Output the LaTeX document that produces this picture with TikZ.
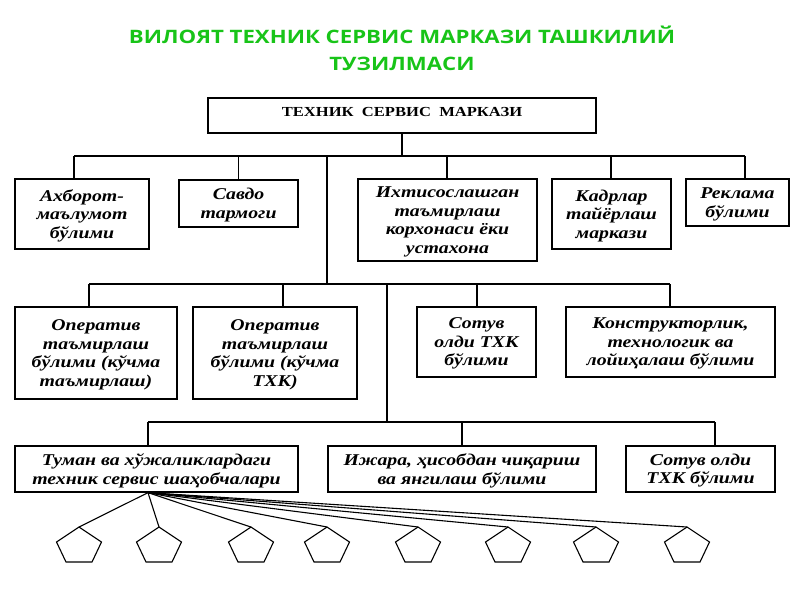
\documentclass[tikz,border=0pt]{standalone}
\usepackage{fontspec}
\setmainfont{Liberation Serif}[FakeStretch=1.2]
\newfontfamily\titlefont{Open Sans}[FakeStretch=1.2]
\definecolor{titlegreen}{RGB}{24,196,24}
\begin{document}
\begin{tikzpicture}[x=1pt,y=-1pt,
  bx/.style={draw, line width=1.3pt, align=center, inner sep=0pt, text depth=0pt,
    font=\fontsize{16.5}{18.5}\selectfont\bfseries\itshape},
  link/.style={line width=1.1pt},
  pent/.style={line width=1.1pt}]
\useasboundingbox (0,0) rectangle (800,600);
% title
\node[font=\titlefont\fontsize{18.5}{27}\selectfont\bfseries, text=titlegreen, align=center] (title) at (402,48)
  {ВИЛОЯТ ТЕХНИК СЕРВИС МАРКАЗИ ТАШКИЛИЙ\\ТУЗИЛМАСИ};
% top box
\node[draw, line width=1.3pt, minimum width=388pt, minimum height=35pt, inner sep=0pt] (top) at (402,115.5) {};
\node[font=\fontsize{13.8}{16}\selectfont\bfseries, anchor=base] (toptxt) at (402,116) {ТЕХНИК\ \ СЕРВИС\ \ МАРКАЗИ};
% row 1
\node[bx, minimum width=134pt, minimum height=70pt] (akh) at (82,214) {Ахборот-\\маълумот\\бўлими};
\node[bx, minimum width=119pt, minimum height=47pt] (sav) at (238.5,203.5) {Савдо\\тармоги};
\node[bx, minimum width=179pt, minimum height=82pt] (ikh) at (447.5,220) {Ихтисослашган\\таъмирлаш\\корхонаси ёки\\устахона};
\node[bx, minimum width=119pt, minimum height=70pt] (kad) at (611.5,214) {Кадрлар\\тайёрлаш\\маркази};
\node[bx, minimum width=103pt, minimum height=47pt] (rek) at (737.5,202.5) {Реклама\\бўлими};
% row 2
\node[bx, minimum width=162pt, minimum height=92pt] (op1) at (96,353) {Оператив\\таъмирлаш\\бўлими (кўчма\\таъмирлаш)};
\node[bx, minimum width=164pt, minimum height=92pt] (op2) at (275,353) {Оператив\\таъмирлаш\\бўлими (кўчма\\ТХК)};
\node[bx, minimum width=119pt, minimum height=70pt] (sot) at (476.5,342) {Сотув\\олди ТХК\\бўлими};
\node[bx, minimum width=209pt, minimum height=70pt] (kon) at (670.5,342) {Конструкторлик,\\технологик ва\\лойиҳалаш бўлими};
% row 3
\node[bx, minimum width=283pt, minimum height=46pt] (tum) at (156.5,469) {Туман ва хўжаликлардаги\\техник сервис шаҳобчалари};
\node[bx, minimum width=268pt, minimum height=46pt] (ijr) at (462,469) {Ижара, ҳисобдан чиқариш\\ва янгилаш бўлими};
\node[bx, minimum width=149pt, minimum height=46pt] (sot2) at (700.5,469) {Сотув олди\\ТХК бўлими};
% buses
\coordinate (b1L) at (74,156); \coordinate (b1R) at (745,156);
\coordinate (b2L) at (89,284); \coordinate (b2R) at (670,284);
\coordinate (b3L) at (148,422); \coordinate (b3R) at (715,422);
\draw[link] (top.south) -- (top.south |- b1L);
\draw[link] (b1L) -- (b1R);
\draw[link] (akh.north -| b1L) -- (b1L);
\draw[link] (sav.north) -- (sav.north |- b1L);
\draw[link] (ikh.north -| 447,0) -- (447,156);
\draw[link] (kad.north -| 611,0) -- (611,156);
\draw[link] (rek.north -| b1R) -- (b1R);
\draw[link] (327,156) -- (327,284);
\draw[link] (b2L) -- (b2R);
\draw[link] (op1.north -| b2L) -- (b2L);
\draw[link] (op2.north -| 283,0) -- (283,284);
\draw[link] (sot.north -| 477,0) -- (477,284);
\draw[link] (kon.north -| b2R) -- (b2R);
\draw[link] (387,284) -- (387,422);
\draw[link] (b3L) -- (b3R);
\draw[link] (tum.north -| b3L) -- (b3L);
\draw[link] (ijr.north -| 462,0) -- (462,422);
\draw[link] (sot2.north -| b3R) -- (b3R);
% pentagons
\coordinate (fan) at (tum.south -| b3L);
\foreach \cx [count=\i] in {79,159,251,327,418,508,596,687}{
  \coordinate (p\i) at (\cx,527);
  \draw[pent] (p\i) -- ++(22.5,15) -- ++(-9.5,20) -- ++(-26,0) -- ++(-9.5,-20) -- cycle;
  \draw[link] (fan) -- (p\i);
}
\end{tikzpicture}
\end{document}
